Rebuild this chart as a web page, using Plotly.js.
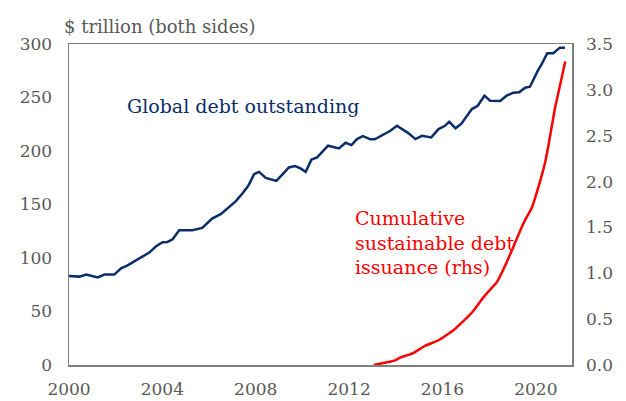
<!DOCTYPE html>
<html>
<head>
<meta charset="utf-8">
<script src="https://cdn.plot.ly/plotly-3.0.1.min.js"></script>
<style>html,body{margin:0;padding:0;background:#fff;}#chart{width:626px;height:401px;}</style>
</head>
<body>
<div id="chart"></div>
<script>
// Global debt outstanding ($ trillion)
const debtYears = [2000.0,2000.45,2000.74,2001.23,2001.52,2001.94,2002.23,2002.51,2002.87,2003.23,2003.44,2003.73,2004.01,2004.22,2004.44,2004.72,2004.94,2005.28,2005.71,2006.13,2006.5,2006.79,2007.15,2007.43,2007.68,2007.93,2008.14,2008.43,2008.88,2009.21,2009.42,2009.68,2009.92,2010.14,2010.39,2010.63,2011.1,2011.56,2011.85,2012.1,2012.34,2012.59,2012.91,2013.1,2013.48,2013.77,2014.05,2014.55,2014.84,2015.12,2015.52,2015.83,2016.09,2016.29,2016.56,2016.82,2017.26,2017.51,2017.8,2018.04,2018.47,2018.75,2019.04,2019.29,2019.54,2019.75,2020.08,2020.25,2020.49,2020.75,2021.03,2021.25];
const debtValues = [83.1,82.6,84.5,81.9,84.5,84.5,90.4,93.2,97.8,102.5,105.1,111,114.7,115,117.5,125.9,125.9,125.9,128.1,136.9,140.9,146.3,153.1,160.3,167.4,178.4,180.5,174.9,172.1,179.6,184.6,185.9,183.7,180.5,192.1,194,204.9,202.4,207.7,205.5,211.1,214,210.9,210.9,215.8,218.9,223.6,216.5,211.1,214.2,212.7,220.5,223.3,227.3,221.2,225.8,239.2,242.3,251.7,247,246.7,251.7,254.5,254.9,259.2,260.1,274.8,281.1,291.4,291.4,296.6,296.6];

// Cumulative sustainable debt issuance ($ trillion, rhs)
const sustYears = [2013.06,2013.97,2014.18,2014.75,2015.26,2015.83,2016.47,2016.69,2017.26,2017.76,2018.18,2018.32,2018.68,2019.04,2019.39,2019.54,2019.82,2020.11,2020.39,2020.53,2020.82,2020.96,2021.26];
const sustValues = [0.0,0.05,0.08,0.13,0.21,0.27,0.38,0.43,0.57,0.74,0.86,0.9,1.08,1.29,1.5,1.58,1.71,1.94,2.2,2.38,2.8,2.96,3.31];

const xTicks = [2000,2004,2008,2012,2016,2020];
const leftTicks = [0,50,100,150,200,250,300];
const rightTicks = [0,0.5,1,1.5,2,2.5,3,3.5];

const FONT = '"DejaVu Serif", Georgia, serif';
const GREY = '#595959';
const FRAME = '#808080';

const traces = [
  {x: debtYears, y: debtValues, type:'scatter', mode:'lines', line:{color:'#0b2d6b', width:2.5}, yaxis:'y', hoverinfo:'skip'},
  {x: sustYears, y: sustValues, type:'scatter', mode:'lines', line:{color:'#ff0000', width:2.5, shape:'spline', smoothing:0.4}, yaxis:'y2', hoverinfo:'skip'}
];

const layout = {
  width:626, height:401,
  margin:{l:69, r:54, t:44, b:36, pad:0},
  paper_bgcolor:'#fff', plot_bgcolor:'#fff',
  showlegend:false,
  font:{family:FONT, color:GREY, size:17},
  xaxis:{range:[2000,2021.55], tickvals:xTicks, ticktext:xTicks.map(String), showgrid:false, zeroline:false,
         showline:true, mirror:true, linecolor:FRAME, linewidth:1.5, ticks:'', ticklabelstandoff:8,
         tickfont:{family:FONT, size:17, color:GREY}},
  yaxis:{range:[0,300], tickvals:leftTicks, showgrid:false, zeroline:false, showline:true, mirror:true,
         linecolor:FRAME, linewidth:1.5, ticks:'', ticklabelstandoff:12, tickfont:{family:FONT, size:17, color:GREY}},
  yaxis2:{range:[0,3.5], tickvals:rightTicks, ticktext:rightTicks.map(v=>v.toFixed(1)), overlaying:'y', side:'right',
          showgrid:false, zeroline:false, showline:false, ticks:'', ticklabelstandoff:13,
          tickfont:{family:FONT, size:17, color:GREY}},
  annotations:[
    {text:'$ trillion (both sides)', xref:'paper', yref:'paper', x:-0.014, y:1.053, xanchor:'left', yanchor:'middle',
     showarrow:false, font:{family:FONT, size:18, color:GREY}},
    {text:'Global debt outstanding', xref:'paper', yref:'paper', x:0.111, y:0.807, xanchor:'left', yanchor:'middle',
     showarrow:false, font:{family:FONT, size:19, color:'#0b2d6b'}},
    {text:'Cumulative<br>sustainable debt<br>issuance (rhs)', xref:'paper', yref:'paper', x:0.565, y:0.382, xanchor:'left', yanchor:'middle',
     align:'left', showarrow:false, font:{family:FONT, size:19, color:'#ff0000'}}
  ]
};

Plotly.newPlot('chart', traces, layout, {staticPlot:true, displayModeBar:false});
</script>
</body>
</html>
